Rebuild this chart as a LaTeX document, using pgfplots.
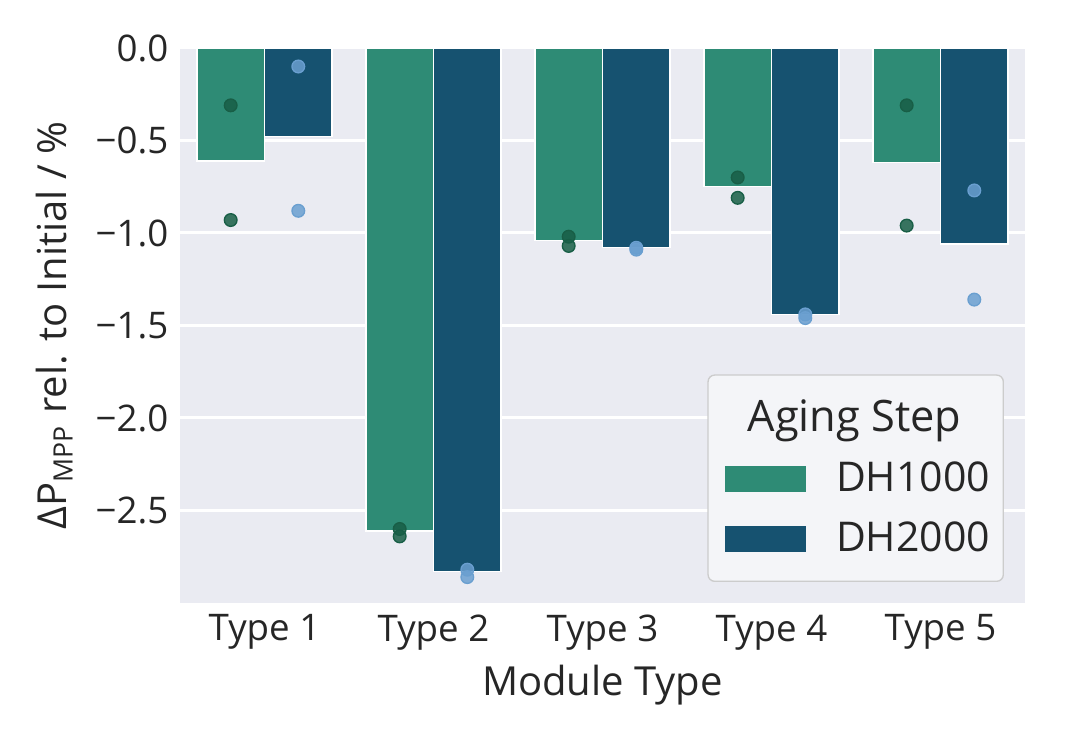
\documentclass[border=0pt]{standalone}
\usepackage{fontspec}
\setmainfont{Open Sans}
\usepackage{pgfplots}
\pgfplotsset{compat=1.18}
\definecolor{bg}{HTML}{EAEBF2}
\definecolor{cA}{RGB}{46,139,117}
\definecolor{cB}{RGB}{22,82,112}
\definecolor{dA}{RGB}{24,94,70}
\definecolor{dB}{RGB}{106,159,208}
\begin{document}
\begin{tikzpicture}
\useasboundingbox (-54pt,-38.4pt) rectangle (270pt,180.9pt);
\begin{axis}[
  scale only axis, width=253.5pt, height=166.5pt,
  xmin=-0.5, xmax=4.5, ymin=-3, ymax=0,
  xtick={0,1,2,3,4}, xticklabels={Type 1,Type 2,Type 3,Type 4,Type 5},
  ytick={-2.5,-2,-1.5,-1,-0.5,0},
  yticklabels={−2.5,−2.0,−1.5,−1.0,−0.5,0.0},
  axis background/.style={fill=bg},
  axis line style={draw=none},
  major tick length=0pt,
  ymajorgrids, grid style={white, line width=0.9pt},
  tick label style={font=\fontsize{11}{13}\selectfont, text=black!85},
  label style={font=\fontsize{12}{14}\selectfont, text=black!85},
  xlabel style={yshift=2.4pt},
  xlabel={Module Type},
  ylabel={ΔP\textsubscript{MPP} rel. to Initial / \%},
  legend style={at={(1,0)}, anchor=south east, xshift=-6.3pt, yshift=6.3pt,
    draw=black!20, fill=bg!50!white, rounded corners=2pt,
    font=\fontsize{12.3}{14}\selectfont, text=black!85,
    inner xsep=5pt, inner ysep=5.5pt, row sep=3.5pt},
  legend cell align=left,
]
\addplot[ybar, bar width=0.4, bar shift=-0.2, fill=cA, draw=white, line width=0.4pt, forget plot]
  coordinates {(0,-0.61) (1,-2.61) (2,-1.04) (3,-0.75) (4,-0.62)};
\addplot[ybar, bar width=0.4, bar shift=0.2, fill=cB, draw=white, line width=0.4pt, forget plot]
  coordinates {(0,-0.48) (1,-2.83) (2,-1.08) (3,-1.44) (4,-1.06)};
\addplot[dA, only marks, mark=*, mark size=1.9pt, mark options={fill=dA, draw=none, fill opacity=0.85}, forget plot]
  coordinates {(-0.2,-0.31) (-0.2,-0.93) (0.8,-2.60) (0.8,-2.64) (1.8,-1.02) (1.8,-1.07)
               (2.8,-0.70) (2.8,-0.81) (3.8,-0.31) (3.8,-0.96)};
\addplot[dB, only marks, mark=*, mark size=1.9pt, mark options={fill=dB, draw=none, fill opacity=0.85}, forget plot]
  coordinates {(0.2,-0.10) (0.2,-0.88) (1.2,-2.82) (1.2,-2.86) (2.2,-1.08) (2.2,-1.09)
               (3.2,-1.44) (3.2,-1.46) (4.2,-0.77) (4.2,-1.36)};
\addlegendimage{empty legend}
\addlegendentry{\hspace*{-19.5pt}\fontsize{13}{15}\selectfont Aging Step}
\addlegendimage{legend image code/.code={\fill[cA, sharp corners] (0pt,-3.75pt) rectangle (24pt,3.75pt);}}
\addlegendentry{\hspace*{7pt}DH1000\hspace*{-3pt}}
\addlegendimage{legend image code/.code={\fill[cB, sharp corners] (0pt,-3.75pt) rectangle (24pt,3.75pt);}}
\addlegendentry{\hspace*{7pt}DH2000\hspace*{-3pt}}
\end{axis}
\end{tikzpicture}
\end{document}
